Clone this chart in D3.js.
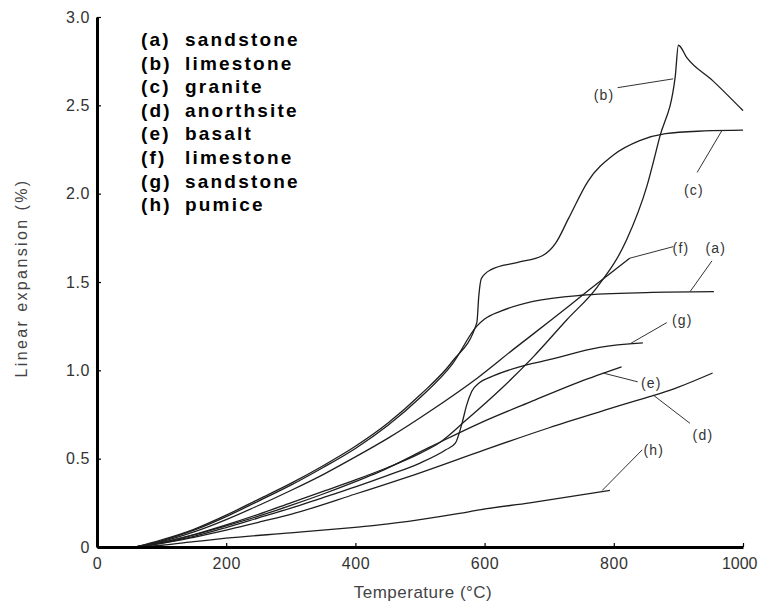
<!DOCTYPE html>
<html>
<head>
<meta charset="utf-8">
<script src="https://cdn.jsdelivr.net/npm/d3@7"></script>
<style>
  html, body { margin: 0; padding: 0; background: #fff; }
  svg { display: block; font-family: "Liberation Sans", Arial, sans-serif; }
</style>
</head>
<body>
<svg id="chart" width="761" height="609"></svg>
<script>
// Axis ticks
const temperatureTicks = [0, 200, 400, 600, 800, 1000];
const expansionTicks = [0, 0.5, 1.0, 1.5, 2.0, 2.5, 3.0];

// Legend entries
const seriesKeys = ["(a)", "(b)", "(c)", "(d)", "(e)", "(f)", "(g)", "(h)"];
const rockNames = ["sandstone", "limestone", "granite", "anorthsite", "basalt", "limestone", "sandstone", "pumice"];

// Linear expansion (%) against temperature (°C), one array per rock
const seriesA = [[60,0],[100,0.035],[150,0.095],[200,0.172],[250,0.26],[300,0.35],[350,0.45],[400,0.558],[450,0.688],[500,0.845],[550,1.035],[588,1.25],[600,1.29],[625,1.335],[675,1.39],[750,1.425],[850,1.44],[955,1.445]];
const seriesB = [[60,0],[100,0.025],[150,0.07],[200,0.125],[250,0.185],[300,0.25],[350,0.315],[400,0.38],[450,0.45],[500,0.53],[530,0.59],[572,0.72],[624,0.89],[675,1.075],[727,1.285],[774,1.47],[820,1.74],[851,2.04],[871,2.32],[895,2.66],[900,2.84],[913,2.77],[953,2.64],[1000,2.47]];
const seriesC = [[60,0],[100,0.04],[150,0.10],[200,0.18],[250,0.27],[300,0.36],[350,0.46],[400,0.57],[450,0.70],[500,0.86],[550,1.05],[588,1.27],[591,1.42],[595,1.52],[610,1.57],[650,1.61],[690,1.65],[710,1.72],[730,1.86],[760,2.07],[800,2.22],[840,2.30],[880,2.34],[940,2.355],[1000,2.36]];
const seriesD = [[60,0],[100,0.02],[150,0.055],[200,0.095],[250,0.14],[300,0.185],[400,0.30],[500,0.42],[600,0.55],[700,0.675],[800,0.79],[900,0.905],[953,0.985]];
const seriesE = [[60,0],[100,0.025],[150,0.068],[200,0.12],[250,0.175],[300,0.235],[350,0.30],[400,0.37],[437,0.425],[515,0.565],[592,0.70],[670,0.82],[747,0.935],[812,1.02]];
const seriesF = [[60,0],[100,0.03],[150,0.085],[200,0.155],[250,0.235],[300,0.32],[350,0.41],[400,0.51],[450,0.615],[520,0.78],[590,0.96],[645,1.12],[705,1.29],[760,1.45],[825,1.635]];
const seriesG = [[60,0],[100,0.022],[150,0.06],[200,0.11],[250,0.165],[300,0.22],[350,0.28],[400,0.34],[450,0.405],[500,0.475],[540,0.55],[555,0.59],[565,0.70],[572,0.80],[580,0.88],[592,0.93],[608,0.96],[654,1.02],[700,1.06],[778,1.13],[845,1.155]];
const seriesH = [[60,0],[100,0.01],[150,0.03],[200,0.05],[300,0.08],[395,0.11],[437,0.125],[500,0.155],[561,0.19],[592,0.21],[670,0.25],[794,0.32]];

// Curve tags: text position, then leader start and end, all in data units
const tagText = [[958,1.69],[785,2.56],[924,2.02],[938,0.634],[858,0.93],[904,1.69],[906,1.285],[862,0.55]];
const tagFrom = [[952,1.62],[806,2.60],[929,2.12],[918,0.70],[837,0.935],[892,1.70],[882,1.27],[844,0.55]];
const tagTo   = [[918,1.445],[892,2.65],[967,2.355],[861,0.86],[783,0.985],[825,1.635],[825,1.15],[782,0.32]];

const allSeries = [seriesA, seriesB, seriesC, seriesD, seriesE, seriesF, seriesG, seriesH];

const svg = d3.select("#chart");
const x = d3.scaleLinear().domain([0, 1000]).range([97, 743]);
const y = d3.scaleLinear().domain([0, 3]).range([547, 17]);

// Curves
const line = d3.line()
  .x(d => x(d[0]))
  .y(d => y(d[1]))
  .curve(d3.curveMonotoneX);

svg.append("g")
  .selectAll("path")
  .data(allSeries)
  .join("path")
  .attr("d", line)
  .attr("fill", "none")
  .attr("stroke", "#1e1e1e")
  .attr("stroke-width", 1.3)
  .attr("stroke-linejoin", "round");

// Leader lines
const idx = seriesKeys.map((k, i) => i);
svg.append("g")
  .selectAll("line")
  .data(idx)
  .join("line")
  .attr("x1", i => x(tagFrom[i][0]))
  .attr("y1", i => y(tagFrom[i][1]))
  .attr("x2", i => x(tagTo[i][0]))
  .attr("y2", i => y(tagTo[i][1]))
  .attr("stroke", "#333")
  .attr("stroke-width", 1);

// Curve tags
svg.append("g")
  .selectAll("text")
  .data(idx)
  .join("text")
  .attr("x", i => x(tagText[i][0]))
  .attr("y", i => y(tagText[i][1]))
  .attr("dy", "0.35em")
  .attr("text-anchor", "middle")
  .attr("font-size", 14)
  .attr("letter-spacing", 1.2)
  .attr("fill", "#333")
  .text(i => seriesKeys[i]);

// Axes
const yAxis = d3.axisLeft(y)
  .tickValues(expansionTicks)
  .tickFormat(d => d === 0 ? "0" : d3.format(".1f")(d))
  .tickSizeInner(-4)
  .tickSizeOuter(0)
  .tickPadding(7);

const xAxis = d3.axisBottom(x)
  .tickValues(temperatureTicks)
  .tickFormat(d3.format("d"))
  .tickSizeInner(-4)
  .tickSizeOuter(0)
  .tickPadding(11);

const gy = svg.append("g").attr("transform", "translate(97,0)").call(yAxis);
const gx = svg.append("g").attr("transform", "translate(0,547)").call(xAxis);

[gx, gy].forEach(g => {
  g.select(".domain").attr("stroke", "#000").attr("stroke-width", 3);
  g.selectAll(".tick line").attr("stroke", "#000").attr("stroke-width", 1.2);
  g.selectAll(".tick text")
    .attr("fill", "#333")
    .attr("font-size", 16)
    .attr("letter-spacing", 0.6)
    .attr("font-family", "'Liberation Sans', Arial, sans-serif");
});

// Keep the last temperature label inside the frame
gx.selectAll(".tick text")
  .filter(d => d === 1000)
  .attr("text-anchor", "end")
  .attr("letter-spacing", 0)
  .attr("x", 14);

// Axis titles
svg.append("text")
  .attr("transform", "translate(27,278) rotate(-90)")
  .attr("text-anchor", "middle")
  .attr("font-size", 16)
  .attr("letter-spacing", 2.4)
  .attr("fill", "#444")
  .text("Linear expansion (%)");

svg.append("text")
  .attr("x", 423)
  .attr("y", 598)
  .attr("text-anchor", "middle")
  .attr("font-size", 17)
  .attr("letter-spacing", 0.5)
  .attr("fill", "#444")
  .text("Temperature (°C)");

// Legend
const legend = svg.append("g")
  .attr("font-weight", "bold")
  .attr("font-size", 19)
  .attr("letter-spacing", 2.2)
  .attr("fill", "#000");
legend.selectAll("text.key")
  .data(seriesKeys)
  .join("text")
  .attr("class", "key")
  .attr("x", 141)
  .attr("y", (d, i) => 46 + 23.6 * i)
  .text(d => d);
legend.selectAll("text.name")
  .data(rockNames)
  .join("text")
  .attr("class", "name")
  .attr("x", 185)
  .attr("y", (d, i) => 46 + 23.6 * i)
  .text(d => d);
</script>
</body>
</html>
